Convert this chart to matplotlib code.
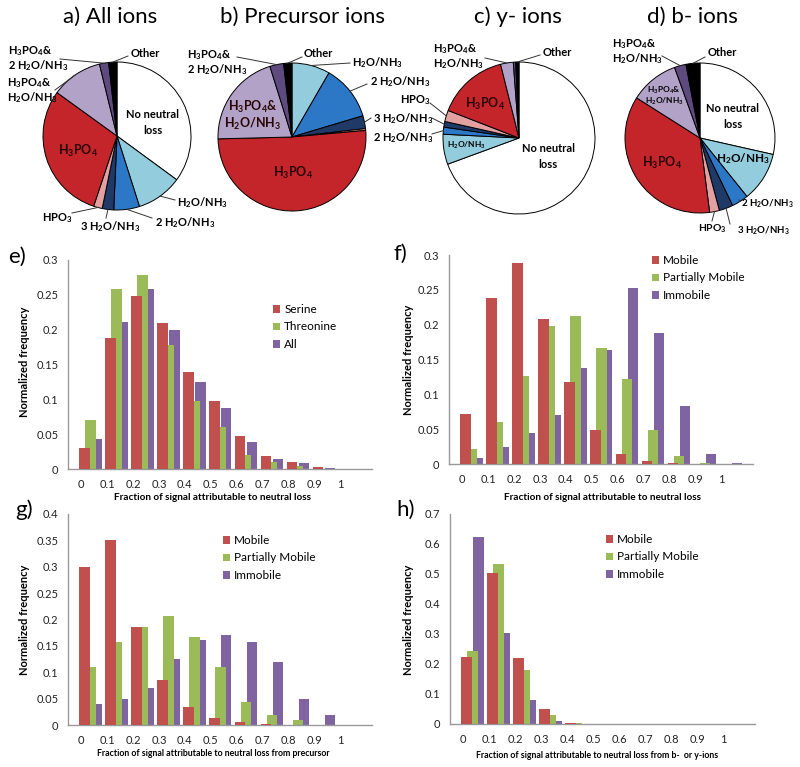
import numpy as np
import matplotlib
matplotlib.use("Agg")
import matplotlib.pyplot as plt
from matplotlib.lines import Line2D
from matplotlib.patches import Patch

plt.rcParams['font.family'] = ['Lato', 'DejaVu Sans']
plt.rcParams['mathtext.fontset'] = 'custom'
plt.rcParams['mathtext.rm'] = 'Lato:bold'
plt.rcParams['mathtext.it'] = 'Lato:bold:italic'
plt.rcParams['mathtext.bf'] = 'Lato:bold'

W, H = 800, 767

# ---------------- data ----------------
slice_names = ["No neutral loss", "H2O/NH3", "2 H2O/NH3", "3 H2O/NH3", "HPO3",
               "H3PO4", "H3PO4&H2O/NH3", "H3PO4&2H2O/NH3", "Other"]
slice_colors = ['#FFFFFF', '#93CDDD', '#2C77C6', '#1F3A66', '#E3A0A0',
                '#C3252B', '#B3A2C7', '#5E4A7E', '#000000']
pie_all = [35.0, 10.0, 5.6, 2.5, 1.9, 29.8, 11.2, 2.0, 1.8]
pie_precursor = [0.0, 8.3, 12.0, 2.8, 0.4, 50.8, 20.5, 3.0, 1.8]
pie_y = [69.4, 6.4, 1.5, 1.2, 2.4, 15.2, 2.7, 0.5, 0.7]
pie_b = [28.5, 10.7, 3.6, 3.0, 2.1, 36.0, 10.5, 2.5, 3.0]

bins = ['0', '0.1', '0.2', '0.3', '0.4', '0.5', '0.6', '0.7', '0.8', '0.9', '1']

e_serine = [0.030, 0.188, 0.248, 0.210, 0.139, 0.098, 0.048, 0.018, 0.010, 0.003, 0.0]
e_threonine = [0.070, 0.259, 0.278, 0.178, 0.098, 0.060, 0.020, 0.010, 0.005, 0.0, 0.0]
e_all = [0.043, 0.211, 0.258, 0.200, 0.125, 0.087, 0.039, 0.015, 0.008, 0.002, 0.0]

f_mobile = [0.072, 0.238, 0.288, 0.208, 0.118, 0.049, 0.014, 0.005, 0.002, 0.0, 0.0]
f_partial = [0.022, 0.060, 0.127, 0.198, 0.213, 0.167, 0.122, 0.049, 0.012, 0.002, 0.0]
f_immobile = [0.009, 0.024, 0.044, 0.070, 0.138, 0.163, 0.253, 0.188, 0.083, 0.014, 0.001]

g_mobile = [0.300, 0.350, 0.186, 0.085, 0.034, 0.014, 0.006, 0.002, 0.0, 0.0, 0.0]
g_partial = [0.110, 0.157, 0.186, 0.206, 0.166, 0.110, 0.044, 0.019, 0.010, 0.0, 0.0]
g_immobile = [0.039, 0.050, 0.070, 0.125, 0.162, 0.171, 0.157, 0.119, 0.049, 0.019, 0.0]

h_mobile = [0.224, 0.504, 0.219, 0.049, 0.004, 0.001, 0.001, 0.0, 0.0, 0.0, 0.0]
h_partial = [0.243, 0.534, 0.180, 0.029, 0.002, 0.001, 0.0, 0.0, 0.0, 0.0, 0.0]
h_immobile = [0.624, 0.304, 0.080, 0.010, 0.001, 0.0, 0.0, 0.0, 0.0, 0.0, 0.0]

bar_colors = ['#C0504D', '#9BBB59', '#8064A2']

fig = plt.figure(figsize=(W / 100, H / 100), dpi=100)


def fx(x):
    return x / W


def fy(y):
    return 1 - y / H


# ---------------- pies ----------------
def make_pie(values, cx, cy, r):
    R = r * 1.03
    ax = fig.add_axes([fx(cx - R), fy(cy + R), 2 * R / W, 2 * R / H])
    wedges, _ = ax.pie(values, colors=slice_colors, startangle=90, counterclock=False,
                       wedgeprops=dict(edgecolor='black', linewidth=0.7))
    for w, v in zip(wedges, values):
        if v <= 0:
            w.set_visible(False)
    ax.set_xlim(-1.03, 1.03)
    ax.set_ylim(-1.03, 1.03)
    ax.axis('off')
    return ax, wedges


def leader(ax, wedge, start, r=1.0):
    t = np.deg2rad((wedge.theta1 + wedge.theta2) / 2)
    p = ax.transData.transform((r * np.cos(t), r * np.sin(t)))
    p = fig.transFigure.inverted().transform(p)
    fig.add_artist(Line2D([fx(start[0]), p[0]], [fy(start[1]), p[1]],
                          transform=fig.transFigure, color='#333333', lw=0.7))


def ptext(s, x, y, size=8, ha='center', color='black', sp=None):
    lines = s.split('\n')
    fpx = size * 100 / 72
    if sp is None:
        sp = fpx * 1.35
    n = len(lines)
    for i, ln in enumerate(lines):
        yc = y + (i - (n - 1) / 2) * sp
        fig.text(fx(x), fy(yc + 0.36 * fpx), ln, ha=ha, va='baseline', fontsize=size,
                 fontweight='bold', color=color)


H3PO4 = "H$_3$PO$_4$"
H2O = "H$_2$O/NH$_3$"
dark = '#2a0505'

# a) All ions
axa, wa = make_pie(pie_all, 117, 136, 74)
fig.text(fx(110), fy(17), "a) All ions", ha='center', va='center', fontsize=16)
ptext(H3PO4 + "&\n2 " + H2O, 8, 58, ha='left'); leader(axa, wa[7], (60, 59))
ptext(H3PO4 + "&\n" + H2O, 7, 90, ha='left'); leader(axa, wa[6], (55, 90))
ptext("Other", 145, 53); leader(axa, wa[8], (128, 56))
ptext("No neutral\nloss", 153, 122)
ptext(H3PO4, 78, 150, size=9, color=dark)
ptext(H2O, 177, 202, ha='left'); leader(axa, wa[1], (175, 200))
ptext("2 " + H2O, 155, 222, ha='left'); leader(axa, wa[2], (152, 218))
ptext("3 " + H2O, 80, 226, ha='left'); leader(axa, wa[3], (106, 218))
ptext("HPO$_3$", 42, 217, ha='left'); leader(axa, wa[4], (72, 213))

# b) Precursor ions
axb, wb = make_pie(pie_precursor, 292, 137, 74)
fig.text(fx(302), fy(17), "b) Precursor ions", ha='center', va='center', fontsize=16)
ptext(H3PO4 + "&\n2 " + H2O, 187, 62, ha='left'); leader(axb, wb[7], (237, 57))
ptext("Other", 318, 53); leader(axb, wb[8], (302, 57))
ptext(H2O, 352, 62, ha='left'); leader(axb, wb[1], (350, 63))
ptext("2 " + H2O, 370, 81, ha='left'); leader(axb, wb[2], (367, 84))
ptext("3 " + H2O, 373, 118, ha='left'); leader(axb, wb[3], (371, 118))
ptext(H3PO4 + "&\n" + H2O, 253, 115, size=9, color=dark)
ptext(H3PO4, 293, 172, size=9, color=dark)

# c) y- ions
axc, wc = make_pie(pie_y, 519, 138, 76)
fig.text(fx(518), fy(17), "c) y- ions", ha='center', va='center', fontsize=16)
leader(axc, wc[3], (432, 118))
ptext(H3PO4 + "&\n" + H2O, 433, 56, ha='left'); leader(axc, wc[6], (485, 58))
ptext("Other", 557, 52); leader(axc, wc[8], (540, 55))
ptext(H3PO4, 485, 103, size=9, color=dark)
ptext("HPO$_3$", 400, 99, ha='left'); leader(axc, wc[4], (430, 103))
ptext("2 " + H2O, 373, 137, ha='left'); leader(axc, wc[2], (432, 134))
ptext(H2O, 466, 145, size=6)
ptext("No neutral\nloss", 548, 156)

# d) b- ions
axd, wd = make_pie(pie_b, 700, 138, 75)
fig.text(fx(692), fy(17), "d) b- ions", ha='center', va='center', fontsize=16)
ptext(H3PO4 + "&\n" + H2O, 612, 51, ha='left'); leader(axd, wd[7], (662, 56))
ptext("Other", 722, 52); leader(axd, wd[8], (705, 57))
ptext(H3PO4 + "&\n" + H2O, 664, 95, size=6)
ptext("No neutral\nloss", 733, 116)
ptext(H3PO4, 662, 162, size=9, color=dark)
ptext(H2O, 743, 158, size=8.5)
ptext("2 " + H2O, 741, 203, size=7, ha='left'); leader(axd, wd[2], (739, 200))
ptext("HPO$_3$", 698, 228, size=7.5, ha='left'); leader(axd, wd[4], (712, 221))
ptext("3 " + H2O, 737, 230, size=7, ha='left'); leader(axd, wd[3], (730, 224))


# ---------------- bar charts ----------------
def bar_panel(box, series, names, ymax, ystep, letter, letter_xy, xlabel, xlabel_xy,
              xlabel_size, ylabel_xy, legend_xy):
    x0, x1, ytop, ybot = box
    ax = fig.add_axes([fx(x0), fy(ybot), (x1 - x0) / W, (ybot - ytop) / H])
    x = np.arange(len(bins))
    offsets = [-0.23, 0.0, 0.23]
    zorders = [3, 2, 1]
    handles = []
    for s, c, off, z, n in zip(series, bar_colors, offsets, zorders, names):
        ax.bar(x + off, s, width=0.41, color=c, zorder=z)
        handles.append(Patch(facecolor=c, label=n))
    ax.set_xlim(-0.865, 10.85)
    ax.set_ylim(0, ymax)
    yt = np.round(np.arange(0, ymax + 1e-9, ystep), 3)
    ax.set_yticks(yt)
    ax.set_yticklabels([f"{v:g}" for v in yt])
    ax.set_xticks(x - 0.36)
    ax.set_xticklabels(bins)
    ax.tick_params(length=0, pad=7, labelsize=8, colors='#222222')
    for sp in ['top', 'right']:
        ax.spines[sp].set_visible(False)
    for sp in ['left', 'bottom']:
        ax.spines[sp].set_color('#999999')
        ax.spines[sp].set_linewidth(1.0)
    fig.text(fx(letter_xy[0]), fy(letter_xy[1]), letter, ha='center', va='center', fontsize=16)
    fig.text(fx(xlabel_xy[0]), fy(xlabel_xy[1]), xlabel, ha='center', va='center',
             fontsize=xlabel_size, fontweight='bold')
    fig.text(fx(ylabel_xy[0]), fy(ylabel_xy[1]), "Normalized frequency", ha='center',
             va='center', rotation=90, fontsize=8, fontweight='bold')
    ax.legend(handles=handles, loc='upper left', bbox_to_anchor=(fx(legend_xy[0]), fy(legend_xy[1])),
              bbox_transform=fig.transFigure, frameon=False, fontsize=8.5, handlelength=0.6,
              handleheight=0.6, handletextpad=0.35, labelspacing=0.55, borderpad=0,
              borderaxespad=0)
    return ax


bar_panel((68, 372, 260, 469), [e_serine, e_threonine, e_all], ["Serine", "Threonine", "All"],
          0.3, 0.05, "e)", (17, 257), "Fraction of signal attributable to neutral loss", (213, 497),
          7.2, (25, 362), (273, 304))
bar_panel((449, 753, 255, 464), [f_mobile, f_partial, f_immobile],
          ["Mobile", "Partially Mobile", "Immobile"],
          0.3, 0.05, "f)", (400, 254), "Fraction of signal attributable to neutral loss", (602, 497),
          7.2, (408, 360), (652, 255))
bar_panel((68, 372, 514, 725), [g_mobile, g_partial, g_immobile],
          ["Mobile", "Partially Mobile", "Immobile"],
          0.4, 0.05, "g)", (24, 510), "Fraction of signal attributable to neutral loss from precursor",
          (213, 754), 6.3, (25, 620), (223, 535))
bar_panel((450, 755, 514, 724), [h_mobile, h_partial, h_immobile],
          ["Mobile", "Partially Mobile", "Immobile"],
          0.7, 0.1, "h)", (406, 510),
          "Fraction of signal attributable to neutral loss from b-  or y-ions",
          (597, 755), 6.3, (408, 620), (606, 534))

fig.savefig("out.png", dpi=100)
